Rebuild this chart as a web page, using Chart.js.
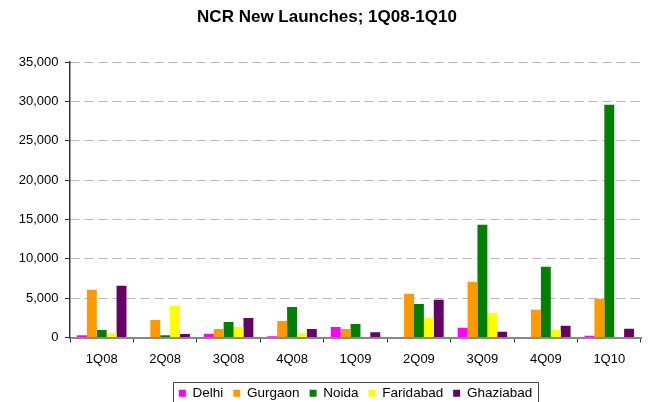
<!DOCTYPE html>
<html>
<head>
<meta charset="utf-8">
<script src="https://cdn.jsdelivr.net/npm/chart.js@4/dist/chart.umd.min.js"></script>
<style>
  html, body { margin: 0; padding: 0; background: #fff; }
  #wrap { width: 650px; height: 402px; position: relative; }
</style>
</head>
<body>
<div id="wrap"><canvas id="c" width="650" height="402"></canvas></div>
<script>
// Quarterly new launches across the NCR micro-markets (units)
const quarters  = ['1Q08', '2Q08', '3Q08', '4Q08', '1Q09', '2Q09', '3Q09', '4Q09', '1Q10'];
const delhi     = [300, 0, 430, 170, 1330, 0, 1230, 0, 210];
const gurgaon   = [6070, 2220, 1070, 2090, 1070, 5560, 7080, 3520, 4920];
const noida     = [940, 300, 1970, 3890, 1710, 4270, 14320, 8980, 29570];
const faridabad = [555, 4020, 1330, 555, 50, 2480, 3140, 975, 0];
const ghaziabad = [6580, 430, 2480, 1070, 680, 4790, 720, 1480, 1100];
const yTicks    = [0, 5000, 10000, 15000, 20000, 25000, 30000, 35000];

const FONT = "Arial, 'Liberation Sans', Helvetica, sans-serif";

// Title centred on the page; legend under the plot, centred on the plot area, in a thin frame
const legendPlacement = {
  id: 'legendPlacement',
  afterLayout(chart) {
    const tb = chart.titleBlock;
    const tdx = chart.width / 2 + 2 - (tb.left + tb.right) / 2;
    tb.left += tdx; tb.right += tdx;

    const lg = chart.legend;
    const ca = chart.chartArea;
    const dx = (ca.left + ca.right) / 2 - (lg.left + lg.right) / 2;
    lg.left += dx; lg.right += dx;
    lg.top += 8; lg.bottom += 8;
  },
  afterDraw(chart) {
    const lg = chart.legend;
    const hb = lg.legendHitBoxes;
    if (!hb || !hb.length) return;
    const first = hb[0], last = hb[hb.length - 1];
    const x1 = Math.round(first.left - 6) + 0.5;
    const x2 = Math.round(last.left + last.width + 6) + 0.5;
    const yMid = first.top + first.height / 2;
    const y1 = Math.round(yMid - 11) + 0.5;
    const ctx = chart.ctx;
    ctx.save();
    ctx.strokeStyle = '#444';
    ctx.lineWidth = 1;
    ctx.beginPath();
    ctx.moveTo(x1, chart.height + 5);
    ctx.lineTo(x1, y1);
    ctx.lineTo(x2, y1);
    ctx.lineTo(x2, chart.height + 5);
    ctx.stroke();
    ctx.restore();
  }
};

const series = [
  { label: 'Delhi',     data: delhi,     color: '#FF00FF' },
  { label: 'Gurgaon',   data: gurgaon,   color: '#FF9900' },
  { label: 'Noida',     data: noida,     color: '#008000' },
  { label: 'Faridabad', data: faridabad, color: '#FFFF00' },
  { label: 'Ghaziabad', data: ghaziabad, color: '#660066' }
];

new Chart(document.getElementById('c'), {
  type: 'bar',
  data: {
    labels: quarters,
    datasets: series.map(s => ({
      label: s.label,
      data: s.data,
      backgroundColor: s.color,
      borderWidth: 0,
      categoryPercentage: 0.78,
      barPercentage: 1.0
    }))
  },
  options: {
    responsive: false,
    animation: false,
    devicePixelRatio: 1,
    layout: { padding: { left: 0, right: 9, top: 0, bottom: 0 } },
    plugins: {
      title: {
        display: true,
        text: 'NCR New Launches; 1Q08-1Q10',
        color: '#000',
        font: { family: FONT, size: 17, weight: 'bold', lineHeight: 1.2 },
        padding: { top: 7, bottom: 34.6 }
      },
      legend: {
        position: 'bottom',
        labels: {
          color: '#000',
          font: { family: FONT, size: 13.5 },
          boxWidth: 7,
          boxHeight: 7,
          padding: 10
        }
      },
      tooltip: { enabled: false }
    },
    scales: {
      x: {
        offset: true,
        grid: {
          display: true,
          offset: true,
          drawOnChartArea: false,
          drawTicks: true,
          tickLength: 5,
          tickColor: '#333',
          tickWidth: 1
        },
        border: { display: true, color: '#888', width: 2 },
        ticks: {
          color: '#000',
          font: { family: FONT, size: 13 },
          padding: 9.5,
          maxRotation: 0
        },
        afterFit(scale) { scale.height = 31; }
      },
      y: {
        min: 0,
        max: 35000,
        afterBuildTicks(scale) { scale.ticks = yTicks.map(v => ({ value: v })); },
        grid: {
          color: '#b8b8b8',
          lineWidth: 1,
          drawTicks: true,
          tickLength: 5,
          tickColor: '#333',
          tickWidth: 1
        },
        border: { display: true, color: '#333', width: 1.5, dash: [9, 5] },
        ticks: {
          color: '#000',
          font: { family: FONT, size: 13 },
          padding: 6.5,
          callback: v => Number(v).toLocaleString('en-US')
        },
        afterFit(scale) { scale.width = 70; }
      }
    }
  },
  plugins: [legendPlacement]
});
</script>
</body>
</html>
